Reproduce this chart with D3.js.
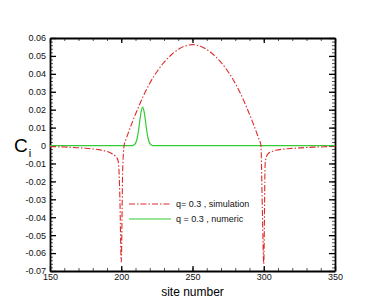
<!DOCTYPE html>
<html>
<head>
<meta charset="utf-8">
<script src="https://cdn.jsdelivr.net/npm/d3@7"></script>
<style>
  body { margin: 0; background: #fff; }
  svg text { font-family: "Liberation Sans", Arial, sans-serif; }
</style>
</head>
<body>
<div id="chart"></div>
<script>
// simulation curve (red dash-dot)
var simSites = [150, 155, 160, 165, 170, 175, 180, 185, 188, 190,
                192, 194, 196, 197, 198, 199, 200, 201, 202, 203,
                204, 206, 208, 210, 212, 214, 216, 218, 220, 223,
                226, 229, 232, 235, 238, 241, 244, 247, 250, 253,
                256, 259, 262, 265, 268, 271, 274, 277, 280, 282,
                284, 286, 288, 290, 292, 294, 296, 297, 298, 299,
                300, 301, 302, 303, 304, 306, 308, 310, 315, 320,
                325, 330, 335, 340, 345, 350];
var simValues = [-0.0006, -0.0007, -0.0008, -0.0010, -0.0012, -0.0015, -0.0019, -0.0024, -0.0029, -0.0033,
                 -0.0039, -0.0047, -0.0060, -0.0070, -0.0092, -0.0280, -0.0650, -0.0140, 0.0000, 0.0028,
                 0.0050, 0.0093, 0.0135, 0.0175, 0.0213, 0.0250, 0.0285, 0.0317, 0.0347, 0.0388,
                 0.0423, 0.0455, 0.0482, 0.0505, 0.0525, 0.0541, 0.0553, 0.0560, 0.0563, 0.0560,
                 0.0553, 0.0541, 0.0525, 0.0505, 0.0482, 0.0455, 0.0423, 0.0388, 0.0347, 0.0317,
                 0.0285, 0.0250, 0.0213, 0.0175, 0.0135, 0.0093, 0.0050, 0.0028, 0.0003, -0.0350,
                 -0.0660, -0.0100, -0.0060, -0.0046, -0.0039, -0.0032, -0.0027, -0.0024, -0.0019, -0.0016,
                 -0.0013, -0.0011, -0.0009, -0.0008, -0.0006, -0.0005];

// numeric curve (green)
var numSites = [150, 208, 209, 210, 211, 212, 213, 214, 215, 216, 217, 218, 219, 220, 221, 222, 350];
var numValues = [0, 0, 0.0004, 0.0012, 0.0035, 0.0077, 0.0137, 0.0190, 0.0215, 0.0190, 0.0137, 0.0077, 0.0035, 0.0012, 0.0004, 0, 0];

var xTicks = [150, 200, 250, 300, 350];
var yTicks = [-0.07, -0.06, -0.05, -0.04, -0.03, -0.02, -0.01, 0, 0.01, 0.02, 0.03, 0.04, 0.05, 0.06];
var legendLabels = ["q= 0.3 , simulation", "q = 0.3 , numeric"];

var width = 382, height = 306;
var plotL = 50, plotR = 335, plotT = 38, plotB = 271;

var svg = d3.select("#chart").append("svg")
    .attr("width", width)
    .attr("height", height);

var x = d3.scaleLinear().domain([150, 350]).range([plotL, plotR]);
var y = d3.scaleLinear().domain([-0.07, 0.06]).range([plotB, plotT]);

var xMinor = d3.range(150, 351, 10);
var yMinor = d3.range(-70, 61, 2).map(function (d) { return d / 1000; });
var fmtY = function (d) { return Math.abs(d) < 1e-9 ? "0" : d.toFixed(2); };

// minor ticks first, majors on top
function minorAxis(axis, pos, vals) {
  svg.append("g")
    .attr("transform", pos)
    .call(axis.tickValues(vals).tickSize(-3).tickFormat(""))
    .call(function (g) { g.select(".domain").remove(); })
    .selectAll("line").attr("stroke", "#555");
}
minorAxis(d3.axisBottom(x), "translate(0," + plotB + ")", xMinor);
minorAxis(d3.axisTop(x), "translate(0," + plotT + ")", xMinor);
minorAxis(d3.axisLeft(y), "translate(" + plotL + ",0)", yMinor);
minorAxis(d3.axisRight(y), "translate(" + plotR + ",0)", yMinor);

var gx = svg.append("g")
  .attr("transform", "translate(0," + plotB + ")")
  .call(d3.axisBottom(x).tickValues(xTicks).tickSize(-5).tickSizeOuter(0).tickPadding(3));
var gx2 = svg.append("g")
  .attr("transform", "translate(0," + plotT + ")")
  .call(d3.axisTop(x).tickValues(xTicks).tickSize(-5).tickSizeOuter(0).tickFormat(""));
var gy = svg.append("g")
  .attr("transform", "translate(" + plotL + ",0)")
  .call(d3.axisLeft(y).tickValues(yTicks).tickSize(-6).tickSizeOuter(0).tickPadding(4).tickFormat(fmtY));
var gy2 = svg.append("g")
  .attr("transform", "translate(" + plotR + ",0)")
  .call(d3.axisRight(y).tickValues(yTicks).tickSize(-6).tickSizeOuter(0).tickFormat(""));

[gx, gx2, gy, gy2].forEach(function (g) {
  g.select(".domain").attr("stroke", "#000").attr("stroke-width", 1.8);
  g.selectAll(".tick line").attr("stroke", "#000").attr("stroke-width", 1.3);
  g.selectAll("text").attr("font-size", 9).attr("fill", "#111")
    .attr("font-family", "'Liberation Sans', Arial, sans-serif");
});

svg.append("clipPath").attr("id", "plot")
  .append("rect").attr("x", plotL).attr("y", plotT)
  .attr("width", plotR - plotL).attr("height", plotB - plotT);

var line = d3.line()
  .x(function (d) { return x(d[0]); })
  .y(function (d) { return y(d[1]); })
  .curve(d3.curveMonotoneX);

svg.append("path")
  .datum(d3.zip(numSites, numValues))
  .attr("clip-path", "url(#plot)")
  .attr("fill", "none")
  .attr("stroke", "#33cc33")
  .attr("stroke-width", 1.2)
  .attr("d", line);

svg.append("path")
  .datum(d3.zip(simSites, simValues))
  .attr("clip-path", "url(#plot)")
  .attr("fill", "none")
  .attr("stroke", "#dd2a2a")
  .attr("stroke-width", 1.1)
  .attr("stroke-dasharray", "6,2,1.5,2")
  .attr("d", line);

// legend
var legend = svg.append("g");
var legendStyles = [
  { stroke: "#dd2a2a", dash: "6,2,1.5,2" },
  { stroke: "#33cc33", dash: null }
];
legendLabels.forEach(function (lab, i) {
  var ly = 204 + i * 15;
  legend.append("line")
    .attr("x1", 129).attr("x2", 171)
    .attr("y1", ly).attr("y2", ly)
    .attr("stroke", legendStyles[i].stroke)
    .attr("stroke-width", 1.1)
    .attr("stroke-dasharray", legendStyles[i].dash);
  legend.append("text")
    .attr("x", 176).attr("y", ly + 3.3)
    .attr("font-size", 9).attr("fill", "#111")
    .text(lab);
});

// axis titles
svg.append("text")
  .attr("x", (plotL + plotR) / 2).attr("y", 296)
  .attr("text-anchor", "middle")
  .attr("font-size", 12)
  .text("site number");

var ct = svg.append("text")
  .attr("x", 14).attr("y", 152)
  .attr("font-size", 19);
ct.append("tspan").text("C");
ct.append("tspan").attr("font-size", 11).attr("dx", 1).attr("dy", 5).text("i");
</script>
</body>
</html>
